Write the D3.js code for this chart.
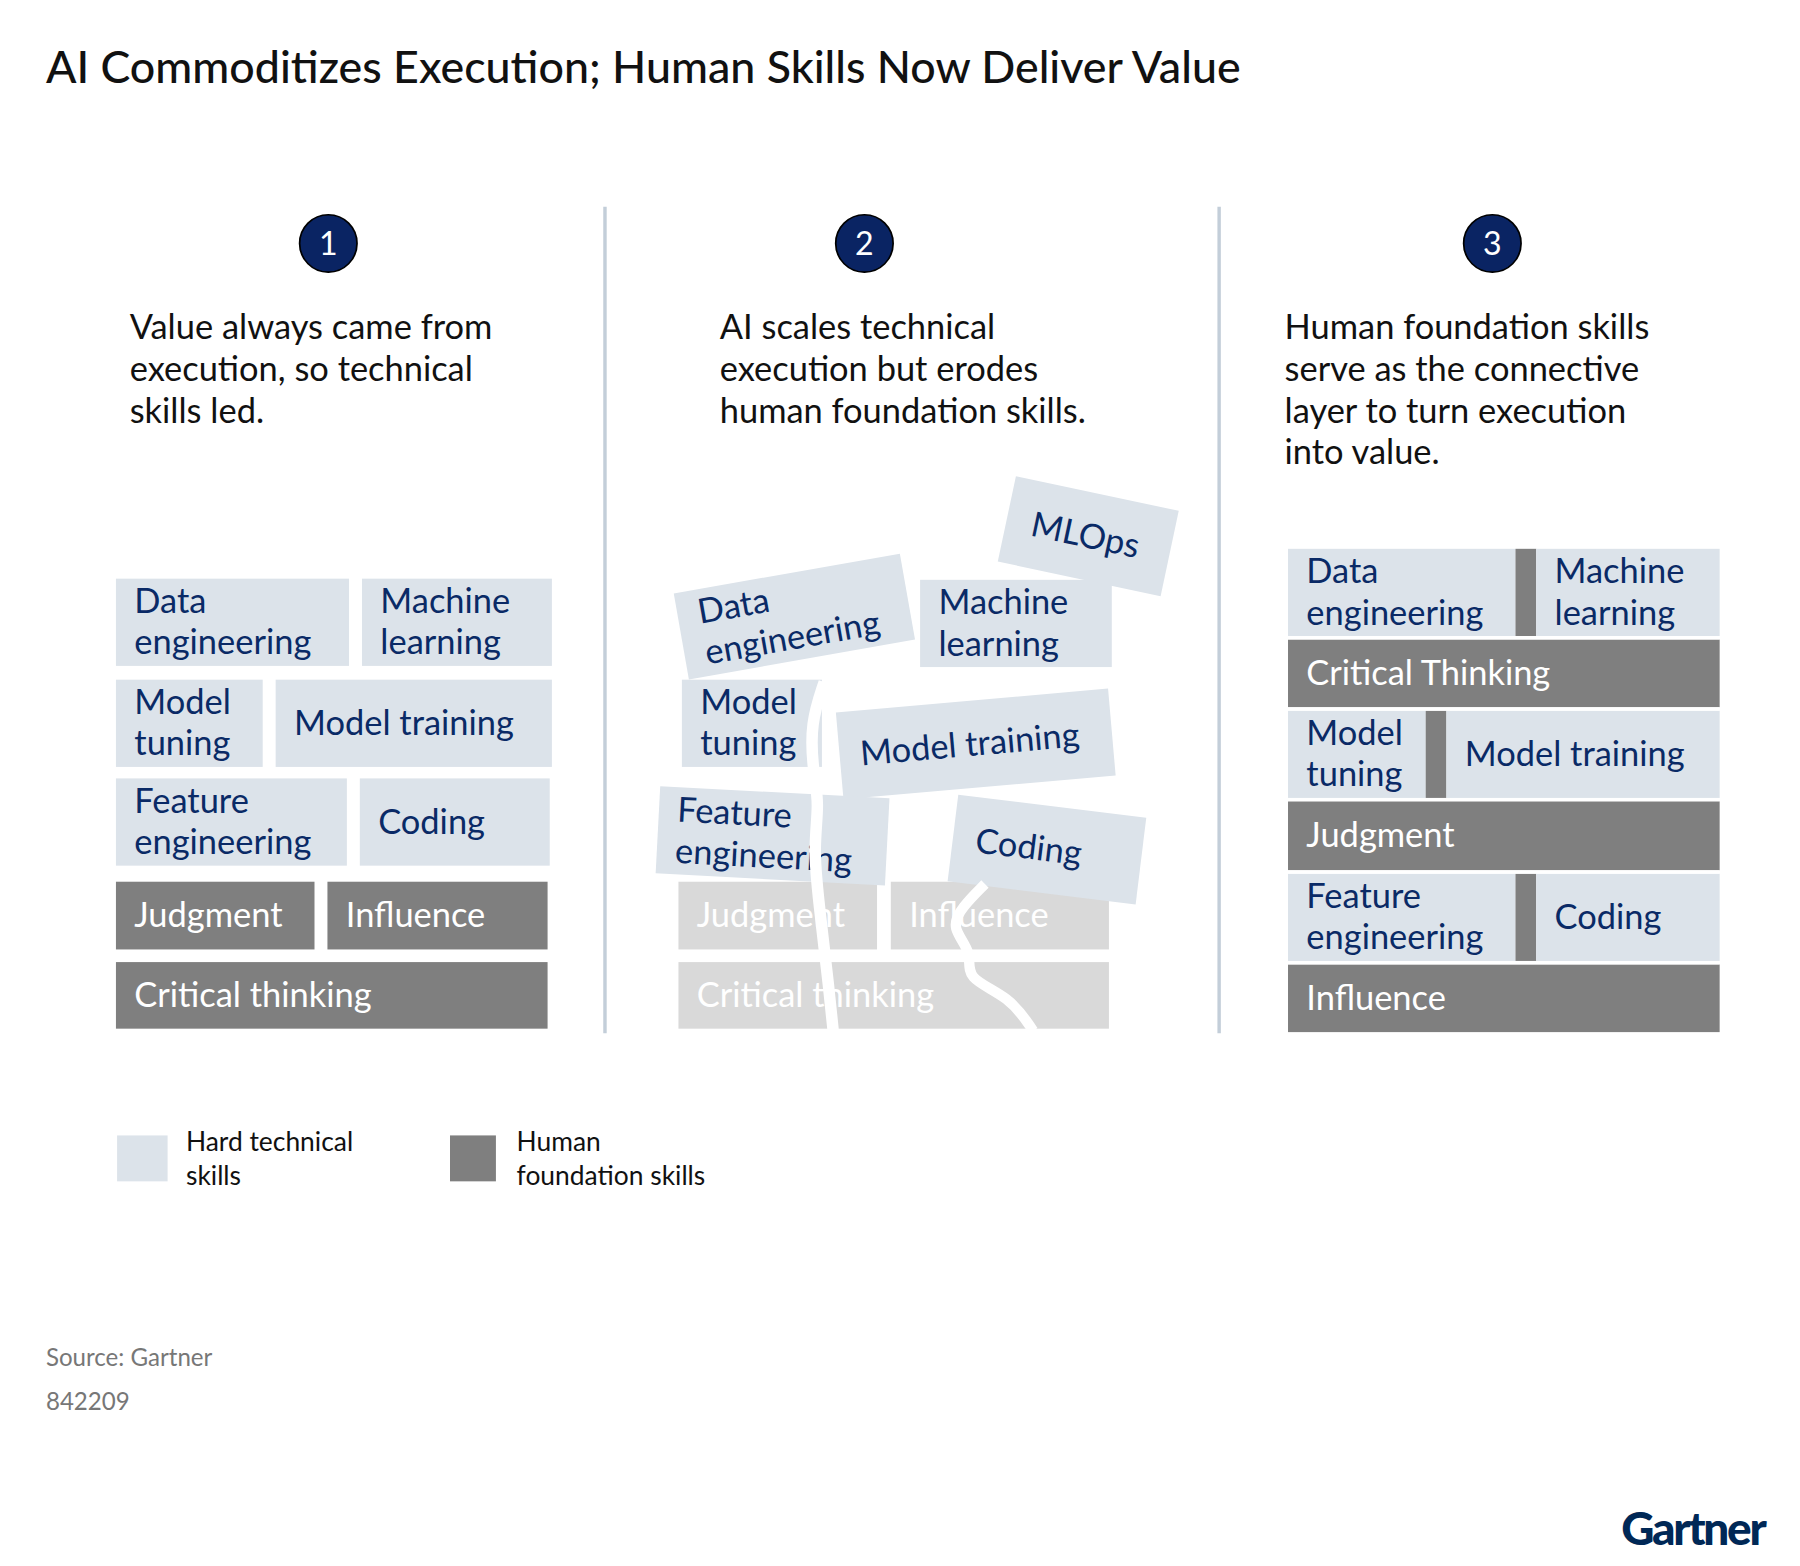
<!DOCTYPE html>
<html lang="en">
<head>
<meta charset="UTF-8">
<script src="https://d3js.org/d3.v7.min.js"></script>
<style>
  body { margin: 0; background: #fff; }
  text { font-family: Lato, "Noto Sans", sans-serif; }
</style>
</head>
<body>
<svg width="1800" height="1566" viewBox="0 0 1568 1364"></svg>
<script>
const svg = d3.select("svg");
const LIGHT = "#dce3ea", DARK = "#7f7f7f", FADED = "#d9d9d9", NAVY = "#0a2a66";

// panel texts
const panelNumbers = ["1", "2", "3"];
const panelTexts = [
  ["Value always came from", "execution, so technical", "skills led."],
  ["AI scales technical", "execution but erodes", "human foundation skills."],
  ["Human foundation skills", "serve as the connective", "layer to turn execution", "into value."]
];

// panel 1 rows: [label, kind]
const panel1Rows = [
  [["Data\nengineering", "hard"], ["Machine\nlearning", "hard"]],
  [["Model\ntuning", "hard"], ["Model training", "hard"]],
  [["Feature\nengineering", "hard"], ["Coding", "hard"]],
  [["Judgment", "human"], ["Influence", "human"]],
  [["Critical thinking", "human"]]
];
// panel 2 scattered blocks
const panel2Hard = ["Data\nengineering", "Machine\nlearning", "MLOps", "Model\ntuning", "Model training", "Feature\nengineering", "Coding"];
const panel2Angles = [-10, 0, 12, 0, -5, 3, 7];
const panel2Faded = ["Judgment", "Influence", "Critical thinking"];
// panel 3 rows
const panel3Rows = [
  [["Data\nengineering", "hard"], ["", "human"], ["Machine\nlearning", "hard"]],
  [["Critical Thinking", "human"]],
  [["Model\ntuning", "hard"], ["", "human"], ["Model training", "hard"]],
  [["Judgment", "human"]],
  [["Feature\nengineering", "hard"], ["", "human"], ["Coding", "hard"]],
  [["Influence", "human"]]
];
const legendItems = [["Hard technical\nskills", "hard"], ["Human\nfoundation skills", "human"]];

const fill = k => k === "hard" ? LIGHT : k === "human" ? DARK : FADED;
const ink = k => k === "hard" ? NAVY : "#fff";

// title
svg.append("text").attr("x", 40).attr("y", 72).attr("font-size", 39).attr("font-weight", 500)
  .attr("fill", "#111").text("AI Commoditizes Execution; Human Skills Now Deliver Value");

// dividers
[527, 1062].forEach(x => svg.append("line").attr("x1", x).attr("x2", x).attr("y1", 180).attr("y2", 900)
  .attr("stroke", "#c3ced9").attr("stroke-width", 3));

const circleX = [286, 753, 1300], textX = [113, 627, 1119];
panelNumbers.forEach((n, i) => {
  svg.append("circle").attr("cx", circleX[i]).attr("cy", 212).attr("r", 25).attr("fill", "#0a2463")
    .attr("stroke", "#000").attr("stroke-width", 1.5);
  svg.append("text").attr("x", circleX[i]).attr("y", 222).attr("text-anchor", "middle")
    .attr("font-size", 28).attr("fill", "#fff").text(n);
  panelTexts[i].forEach((l, j) => svg.append("text").attr("x", textX[i]).attr("y", 295 + j * 36.5)
    .attr("font-size", 30).attr("fill", "#111").text(l));
});

function block(g, label, kind, w, h, pad = 16) {
  g.append("rect").attr("width", w).attr("height", h).attr("fill", fill(kind));
  const lines = label.split("\n");
  const t = g.append("text").attr("font-size", 30).attr("fill", ink(kind));
  const y0 = h / 2 - (lines.length - 1) * 18 + 10;
  lines.forEach((l, j) => t.append("tspan").attr("x", pad).attr("y", y0 + j * 36).text(l));
}

// panel 1
const p1x = d3.scaleLinear().domain([0, 1]).range([101, 477]);
const p1Widths = [[0.54, 0.44], [0.34, 0.64], [0.535, 0.44], [0.46, 0.51], [1]];
const p1Gap = 0.03;
const rowY1 = [504, 592, 678, 768, 838], rowH1 = [76, 76, 76, 59, 58];
panel1Rows.forEach((row, r) => {
  let u = 0;
  row.forEach(([label, kind], c) => {
    const w = p1Widths[r][c];
    const g = svg.append("g").attr("transform", `translate(${p1x(u)},${rowY1[r]})`);
    block(g, label, kind, p1x(u + w) - p1x(u), rowH1[r]);
    u += w + p1Gap;
  });
});

// panel 2 faded foundation
const fadedBoxes = [[591, 768, 173, 59], [776, 768, 190, 59], [591, 838, 375, 58]];
panel2Faded.forEach((label, i) => {
  const [x, y, w, h] = fadedBoxes[i];
  block(svg.append("g").attr("transform", `translate(${x},${y})`), label, "faded", w, h);
});
// panel 2 scattered hard blocks: center x, center y, width
const p2Geom = [[692, 537, 200], [885, 543, 167], [948, 467, 145], [655, 630, 122], [850, 648, 238], [673, 728, 200], [912, 740, 165]];
const p2Pad = [18, 16, 22, 16, 18, 16, 20];
panel2Hard.forEach((label, i) => {
  const [cx, cy, w] = p2Geom[i];
  const g = svg.append("g").attr("transform", `translate(${cx},${cy}) rotate(${panel2Angles[i]}) translate(${-w / 2},-38)`);
  block(g, label, "hard", w, 76, p2Pad[i]);
});
// cracks
const crack = d3.line().curve(d3.curveBasis);
svg.append("path").attr("d", crack([[718, 594], [706, 630], [708, 670], [714, 700], [708, 740], [715, 800], [722, 860], [726, 900]]))
  .attr("fill", "none").attr("stroke", "#fff").attr("stroke-width", 10);
svg.append("path").attr("d", crack([[858, 770], [838, 790], [828, 808], [848, 830], [840, 852], [880, 868], [900, 898]]))
  .attr("fill", "none").attr("stroke", "#fff").attr("stroke-width", 9);

// panel 3
const p3x = d3.scaleLinear().domain([0, 1]).range([1122, 1498]);
const p3Widths = [[0.527, 0.048, 0.425], [1], [0.319, 0.048, 0.633], [1], [0.527, 0.048, 0.425], [1]];
const rowY3 = [478, 557, 619, 698, 761, 840], rowH3 = [76, 59, 76, 60, 76, 59];
panel3Rows.forEach((row, r) => {
  let u = 0;
  row.forEach(([label, kind], c) => {
    const w = p3Widths[r][c];
    const g = svg.append("g").attr("transform", `translate(${p3x(u)},${rowY3[r]})`);
    block(g, label, kind, p3x(u + w) - p3x(u), rowH3[r]);
    u += w;
  });
});
// thin white separators between panel 3 rows
rowY3.slice(1).forEach(y => svg.append("line").attr("x1", 1122).attr("x2", 1498).attr("y1", y - 1.5).attr("y2", y - 1.5)
  .attr("stroke", "#fff").attr("stroke-width", 3));

// legend
const legX = [102, 392];
legendItems.forEach(([label, kind], i) => {
  svg.append("rect").attr("x", legX[i]).attr("y", 989).attr("width", i ? 40 : 44).attr("height", 40).attr("fill", fill(kind));
  label.split("\n").forEach((l, j) => svg.append("text").attr("x", legX[i] + (i ? 58 : 60)).attr("y", 1003 + j * 29)
    .attr("font-size", 23).attr("fill", "#111").text(l));
});

svg.append("text").attr("x", 40).attr("y", 1190).attr("font-size", 21).attr("fill", "#777").text("Source: Gartner");
svg.append("text").attr("x", 40).attr("y", 1228).attr("font-size", 21).attr("fill", "#777").text("842209");
svg.append("text").attr("x", 1537).attr("y", 1346).attr("text-anchor", "end").attr("font-size", 40)
  .attr("font-weight", 900).attr("letter-spacing", -2).attr("fill", "#002856").text("Gartner");
</script>
</body>
</html>
